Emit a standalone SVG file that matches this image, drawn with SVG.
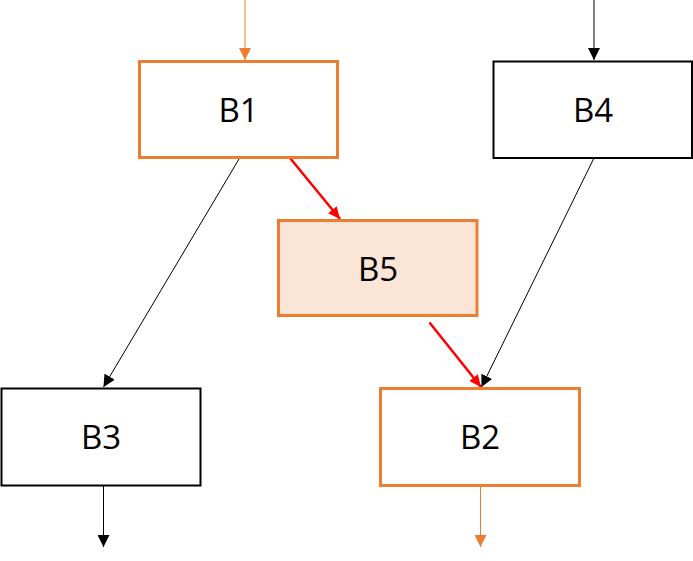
<svg xmlns="http://www.w3.org/2000/svg" width="693" height="561" viewBox="0 0 693 561">
<defs>
<style>
.box{fill:#fff;stroke:#000;stroke-width:2}
.hl{stroke:#ED7D31;stroke-width:3}
.b5{fill:#FBE5D6}
.lbl{font-family:"Open Sans","Noto Sans",sans-serif;font-size:33px;fill:#000;text-anchor:middle}
.k{stroke:#000;stroke-width:1;fill:none}
.o{stroke:#ED7D31;stroke-width:1;fill:none}
.r{stroke:#FF0000;stroke-width:2.5;fill:none}
</style>
<marker id="ak" markerUnits="userSpaceOnUse" markerWidth="12" markerHeight="12" refX="12" refY="6" orient="auto"><path d="M0,0L12,6L0,12z" fill="#000"/></marker>
<marker id="ao" markerUnits="userSpaceOnUse" markerWidth="12" markerHeight="12" refX="12" refY="6" orient="auto"><path d="M0,0L12,6L0,12z" fill="#ED7D31"/></marker>
<marker id="ar" markerUnits="userSpaceOnUse" markerWidth="12" markerHeight="12" refX="12" refY="6" orient="auto"><path d="M0,0.5L12,6L0,11.5z" fill="#FF0000"/></marker>
</defs>
<g id="connectors">
<line class="o" x1="245" y1="0" x2="245" y2="60" marker-end="url(#ao)"/>
<line class="k" x1="594" y1="0" x2="594" y2="60" marker-end="url(#ak)"/>
<line class="k" x1="239" y1="159" x2="103.5" y2="387" marker-end="url(#ak)"/>
<line class="r" x1="290" y1="158" x2="340" y2="219" marker-end="url(#ar)"/>
<line class="r" x1="429.5" y1="322.5" x2="481" y2="387" marker-end="url(#ar)"/>
<line class="k" x1="593.5" y1="159" x2="481.5" y2="387" marker-end="url(#ak)"/>
<line class="k" x1="103.5" y1="486" x2="103.5" y2="547" marker-end="url(#ak)"/>
<line class="o" x1="480.5" y1="487" x2="480.5" y2="547" marker-end="url(#ao)"/>
</g>
<g id="B1"><rect class="box hl" x="139.5" y="61.5" width="198" height="96"/><text class="lbl" x="238.5" y="122">B1</text></g>
<g id="B4"><rect class="box" x="493.5" y="61.5" width="198.5" height="96.5"/><text class="lbl" x="593" y="122">B4</text></g>
<g id="B5"><rect class="box hl b5" x="278.5" y="220.5" width="198.5" height="95"/><text class="lbl" x="378" y="281">B5</text></g>
<g id="B3"><rect class="box" x="1.5" y="388.5" width="199" height="97"/><text class="lbl" x="101" y="449">B3</text></g>
<g id="B2"><rect class="box hl" x="380.5" y="388.5" width="199" height="97"/><text class="lbl" x="480" y="449">B2</text></g>
</svg>
